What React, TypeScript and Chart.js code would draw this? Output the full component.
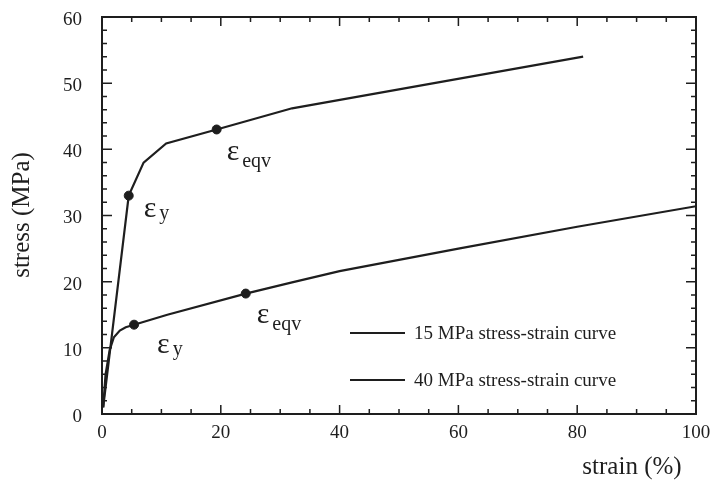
import React, { useEffect, useRef } from "react";
import { Chart, registerables } from "chart.js";

Chart.register(...registerables);

// Data
const curve40Strain = [0.2, 1.7, 4.5, 7, 10.8, 19.3, 32, 81];
const curve40Stress = [1, 12.2, 33, 38, 40.9, 43, 46.2, 54];
const curve15Strain = [0.2, 0.6, 1.3, 2, 3, 4, 5.4, 11, 24.2, 32, 40, 50, 60, 80, 100];
const curve15Stress = [1, 6, 9.7, 11.6, 12.6, 13.1, 13.5, 15, 18.2, 19.9, 21.6, 23.3, 25, 28.3, 31.4];
const markStrain = [4.5, 19.3, 5.4, 24.2];
const markStress = [33, 43, 13.5, 18.2];
const markSub = ["y", "eqv", "y", "eqv"];
const xTicks = [0, 20, 40, 60, 80, 100];
const yTicks = [0, 10, 20, 30, 40, 50, 60];
const legendLabels = ["15 MPa stress-strain curve", "40 MPa stress-strain curve"];
const xTitle = "strain (%)";
const yTitle = "stress (MPa)";

const INK = "#1e1e1e";
const SERIF = "'Liberation Serif', 'DejaVu Serif', serif";

const toPts = (xs: number[], ys: number[]) => xs.map((x, i) => ({ x, y: ys[i] }));

const decorPlugin = {
  id: "decor",
  afterDraw(chart: any) {
    const ctx = chart.ctx as CanvasRenderingContext2D;
    const xs = chart.scales.x;
    const ys = chart.scales.y;
    const { left, right, top, bottom } = chart.chartArea;
    ctx.save();
    // frame
    ctx.strokeStyle = INK;
    ctx.lineWidth = 2;
    ctx.strokeRect(left, top, right - left, bottom - top);
    // inward ticks on all four sides
    ctx.lineWidth = 1.5;
    for (let v = 0; v <= 100; v += 5) {
      const p = xs.getPixelForValue(v);
      const len = v % 20 === 0 ? 9 : 5;
      ctx.beginPath();
      ctx.moveTo(p, bottom);
      ctx.lineTo(p, bottom - len);
      ctx.moveTo(p, top);
      ctx.lineTo(p, top + len);
      ctx.stroke();
    }
    for (let v = 0; v <= 60; v += 2) {
      const p = ys.getPixelForValue(v);
      const len = v % 10 === 0 ? 10 : 5;
      ctx.beginPath();
      ctx.moveTo(left, p);
      ctx.lineTo(left + len, p);
      ctx.moveTo(right, p);
      ctx.lineTo(right - len, p);
      ctx.stroke();
    }
    // epsilon labels next to the marked points
    ctx.fillStyle = INK;
    ctx.textAlign = "left";
    ctx.textBaseline = "alphabetic";
    const dx = [15, 10, 23, 11];
    const dy = [21, 31, 28, 29];
    markStrain.forEach((sx, i) => {
      const px = xs.getPixelForValue(sx);
      const py = ys.getPixelForValue(markStress[i]);
      const ex = px + dx[i];
      const ey = py + dy[i];
      ctx.font = `30px ${SERIF}`;
      ctx.fillText("\u03b5", ex, ey);
      const w = ctx.measureText("\u03b5").width;
      ctx.font = `20px ${SERIF}`;
      ctx.fillText(markSub[i], ex + w + 3, ey + (markSub[i] === "y" ? 2 : 7));
    });
    // legend
    ctx.font = `19px ${SERIF}`;
    ctx.textBaseline = "middle";
    legendLabels.forEach((lab, i) => {
      const ly = 333 + i * 47;
      ctx.lineWidth = 2;
      ctx.beginPath();
      ctx.moveTo(350, ly);
      ctx.lineTo(405, ly);
      ctx.stroke();
      ctx.fillText(lab, 414, ly + 1);
    });
    // axis titles
    ctx.font = `25px ${SERIF}`;
    ctx.textAlign = "center";
    ctx.fillText(xTitle, 632, 467);
    ctx.save();
    ctx.translate(22, 215);
    ctx.rotate(-Math.PI / 2);
    ctx.fillText(yTitle, 0, 0);
    ctx.restore();
    ctx.restore();
  },
};

export default function App() {
  const ref = useRef<HTMLCanvasElement | null>(null);
  useEffect(() => {
    document.body.style.margin = "0";
    const canvas = ref.current!;
    const chart = new Chart(canvas, {
      type: "scatter",
      data: {
        datasets: [
          {
            label: "40 MPa",
            data: toPts(curve40Strain, curve40Stress),
            showLine: true,
            borderColor: INK,
            borderWidth: 2.2,
            pointRadius: 0,
            tension: 0,
          },
          {
            label: "15 MPa",
            data: toPts(curve15Strain, curve15Stress),
            showLine: true,
            borderColor: INK,
            borderWidth: 2.2,
            pointRadius: 0,
            tension: 0,
          },
          {
            label: "marks",
            data: toPts(markStrain, markStress),
            showLine: false,
            pointRadius: 4.5,
            pointBackgroundColor: INK,
            pointBorderColor: INK,
          },
        ],
      },
      options: {
        responsive: false,
        animation: false,
        layout: { padding: { top: 17, right: 17, left: 0, bottom: 0 } },
        plugins: { legend: { display: false }, tooltip: { enabled: false } },
        scales: {
          x: {
            type: "linear",
            min: 0,
            max: 100,
            afterBuildTicks: (s: any) => {
              s.ticks = xTicks.map((v) => ({ value: v }));
            },
            afterFit: (s: any) => {
              s.height = 68;
              s.paddingLeft = 0;
              s.paddingRight = 0;
            },
            grid: { display: false, drawTicks: false },
            border: { display: false },
            ticks: { color: INK, font: { family: SERIF, size: 19 }, padding: 8, maxRotation: 0 },
          },
          y: {
            type: "linear",
            min: 0,
            max: 60,
            afterBuildTicks: (s: any) => {
              s.ticks = yTicks.map((v) => ({ value: v }));
            },
            afterFit: (s: any) => {
              s.width = 102;
              s.paddingTop = 0;
              s.paddingBottom = 0;
            },
            grid: { display: false, drawTicks: false },
            border: { display: false },
            ticks: { color: INK, font: { family: SERIF, size: 19 }, padding: 20, labelOffset: 3 },
          },
        },
      },
      plugins: [decorPlugin],
    } as any);
    return () => chart.destroy();
  }, []);
  return (
    <div style={{ position: "fixed", left: 0, top: 0, width: 713, height: 482, background: "#fff" }}>
      <canvas ref={ref} width={713} height={482} style={{ width: 713, height: 482 }} />
    </div>
  );
}
